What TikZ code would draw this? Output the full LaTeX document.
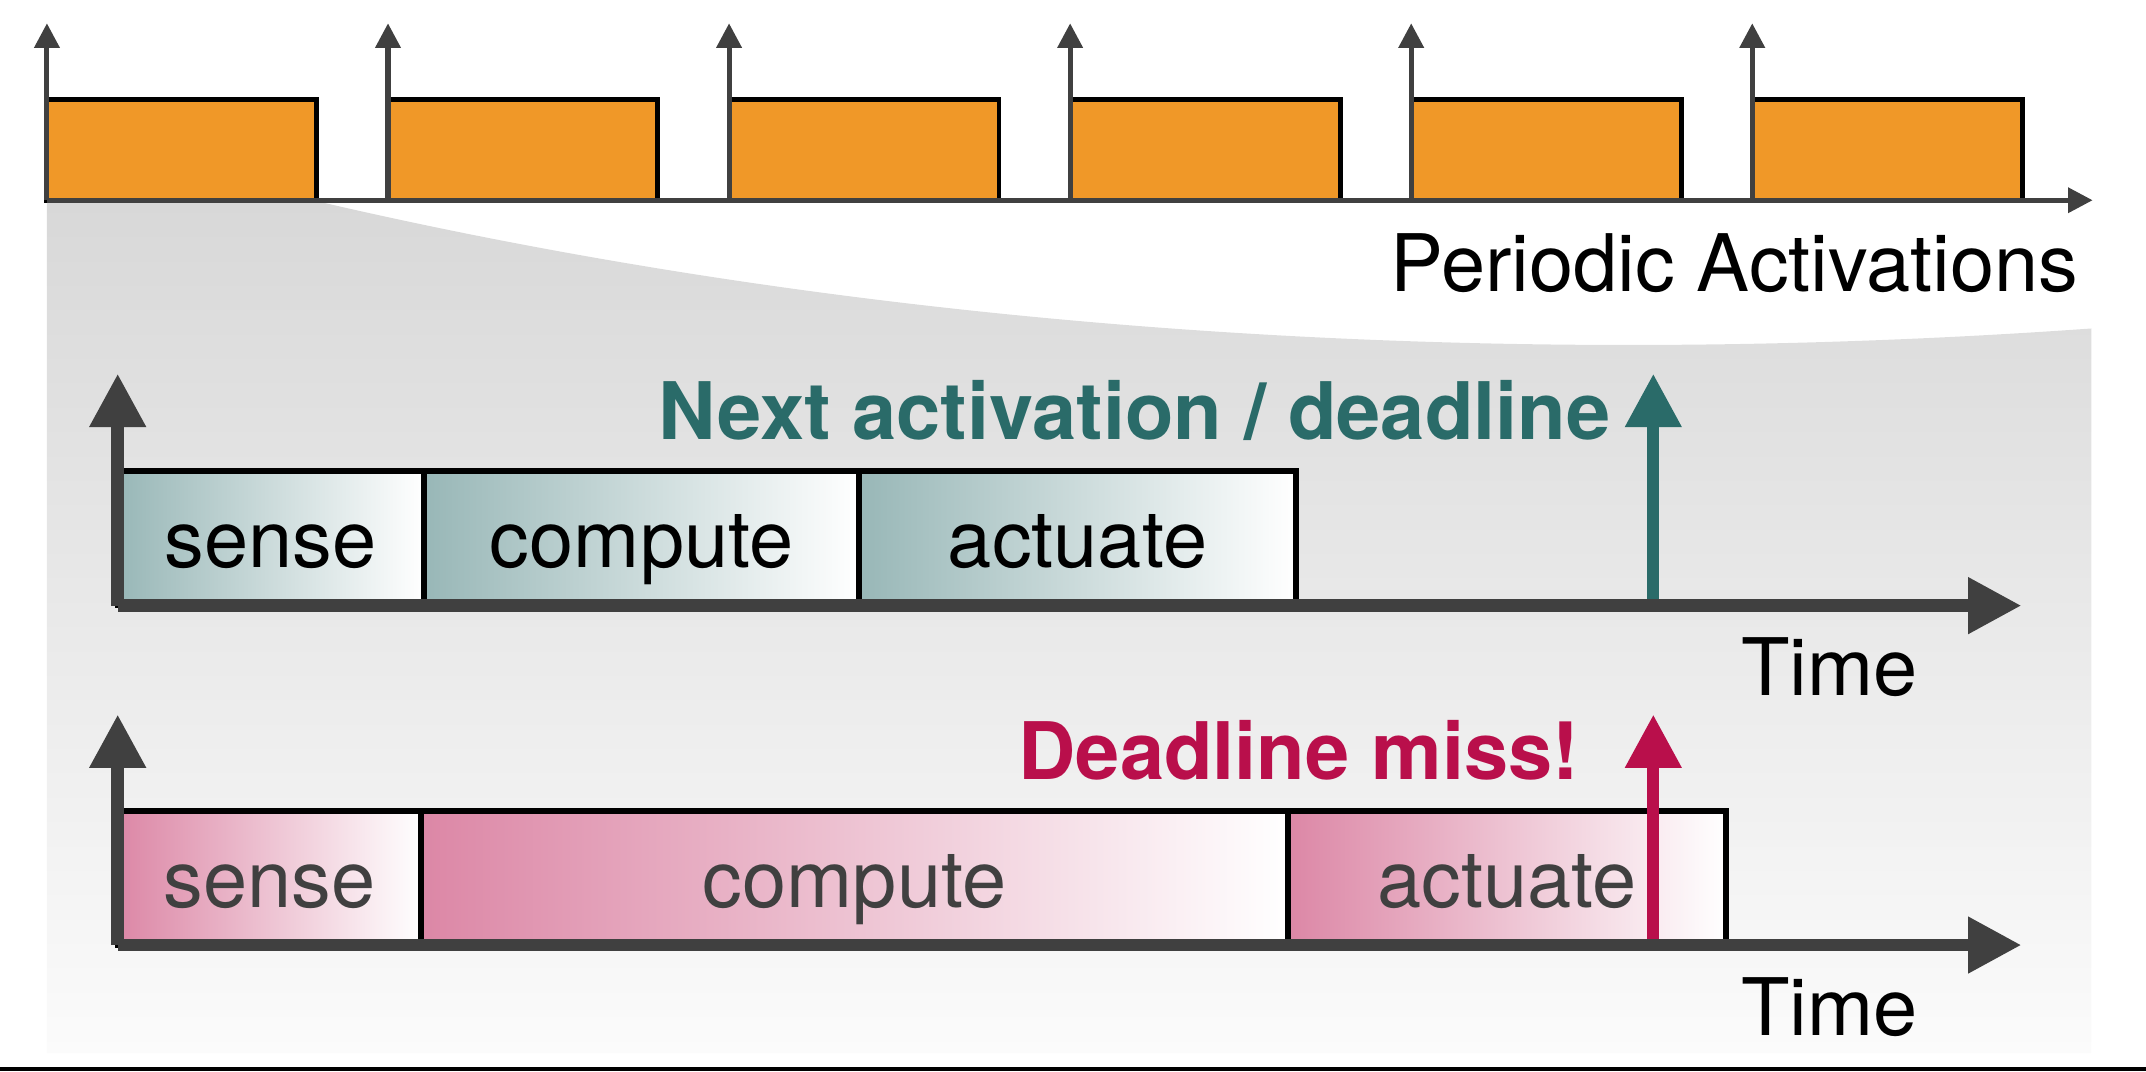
\documentclass[tikz,border=0pt]{standalone}
\usepackage{fontspec}
\setmainfont{TeX Gyre Heros}
\usetikzlibrary{arrows.meta}

\definecolor{orangebar}{RGB}{240,152,40}
\definecolor{axisgray}{RGB}{64,64,64}
\definecolor{tealdark}{RGB}{42,107,105}
\definecolor{teallight}{RGB}{152,183,183}
\definecolor{crimson}{RGB}{185,15,75}
\definecolor{pinklight}{RGB}{220,135,166}
\definecolor{labelgray}{RGB}{64,64,64}
\definecolor{regiontop}{RGB}{216,216,216}
\definecolor{regionbottom}{RGB}{251,251,251}

\begin{document}
\begin{tikzpicture}[x=0.5pt,y=-0.5pt,
  lbl/.style={inner sep=0pt,font=\fontsize{29}{34}\selectfont},
  boldlbl/.style={inner sep=0pt,font=\fontsize{29}{34}\selectfont\bfseries},
  jobbox/.style={draw=black,line width=1.8pt,fill=orangebar,inner sep=0pt,
    minimum width=98.6pt,minimum height=36.65pt},
  phase/.style={draw=black,line width=2pt,inner sep=0pt,right color=white,
    text height=21.5pt,text depth=0pt,font=\fontsize{29}{34}\selectfont},
  okphase/.style={phase,left color=teallight,text=black,minimum height=49.25pt},
  latephase/.style={phase,left color=pinklight,text=labelgray,minimum height=48.95pt},
  smallarrow/.style={draw=axisgray,line width=1.85pt,
    -{Triangle[length=9pt,width=9pt]}},
  bigaxis/.style={draw=axisgray,line width=4.6pt,
    -{Triangle[length=19.5pt,width=19.5pt]}},
  deadarrow/.style={line width=4.5pt,-{Triangle[length=19.5pt,width=19.5pt]}}]

\useasboundingbox (0,0) rectangle (1568,783);

% zoomed-in region below the first job
\shade[top color=regiontop,bottom color=regionbottom]
  (34.3,146.3) -- (231.5,147)
  .. controls (631.5,240) and (1078,272) .. (1528,240)
  -- (1528,769.5) -- (34.3,769.5) -- cycle;

% periodic jobs with their release arrows
\foreach \i in {0,...,5}{
  \pgfmathsetmacro{\xl}{34.3+249.2*\i}
  \pgfmathsetmacro{\xc}{\xl+98.6}
  \node[jobbox] (job\i) at (\xc,109.65) {};
  \coordinate (rel\i) at (\xl,146.3);
  \coordinate (reltip\i) at (\xl,17);
  \draw[smallarrow] (rel\i) -- (reltip\i);
}
\coordinate (axstart) at (34.3,146.3);
\coordinate (axend) at (1529,146.3);
\draw[smallarrow,line width=1.75pt] (axstart) -- (axend);
\node[lbl,anchor=base east] (periodic) at (1519,213) {Periodic Activations};

% schedule meeting its deadline
\node[okphase,minimum width=111.9pt] (oksense) at (197.9,393.25) {sense};
\node[okphase,minimum width=158.9pt] (okcompute) at (468.7,393.25) {compute};
\node[okphase,minimum width=159.7pt] (okactuate) at (787.3,393.25) {actuate};
\coordinate (o1) at (86,442.5);
\coordinate (y1) at (86,273);
\coordinate (x1) at (1477,442.5);
\coordinate (d1) at (1208,442.5);
\coordinate (d1tip) at (1208,273);
\draw[deadarrow,tealdark] (d1) -- (d1tip);
\draw[bigaxis] (o1) -- (y1);
\draw[bigaxis] (o1) -- (x1);
\node[boldlbl,text=tealdark,anchor=base east] (nextlbl) at (1177,321)
  {Next activation / deadline};
\node[lbl,anchor=base west] (time1) at (1272,508) {Time};

% schedule missing its deadline
\node[latephase,minimum width=110.8pt] (latesense) at (196.8,641.55) {sense};
\node[latephase,minimum width=316.7pt] (latecompute) at (624.3,641.55) {compute};
\node[latephase,minimum width=160pt] (lateactuate) at (1101,641.55) {actuate};
\coordinate (o2) at (86,690.5);
\coordinate (y2) at (86,522);
\coordinate (x2) at (1477,690.5);
\coordinate (d2) at (1208,690.5);
\coordinate (d2tip) at (1208,522);
\draw[deadarrow,crimson] (d2) -- (d2tip);
\draw[bigaxis] (o2) -- (y2);
\draw[bigaxis] (o2) -- (x2);
\node[boldlbl,text=crimson,anchor=base east] (misslbl) at (1154,569.4)
  {Deadline miss!};
\node[lbl,anchor=base west] (time2) at (1272,756.3) {Time};

% rule along the lower edge
\coordinate (ruleL) at (0,781);
\coordinate (ruleR) at (1568,781);
\draw[black,line width=1.5pt] (ruleL) -- (ruleR);
\end{tikzpicture}
\end{document}
